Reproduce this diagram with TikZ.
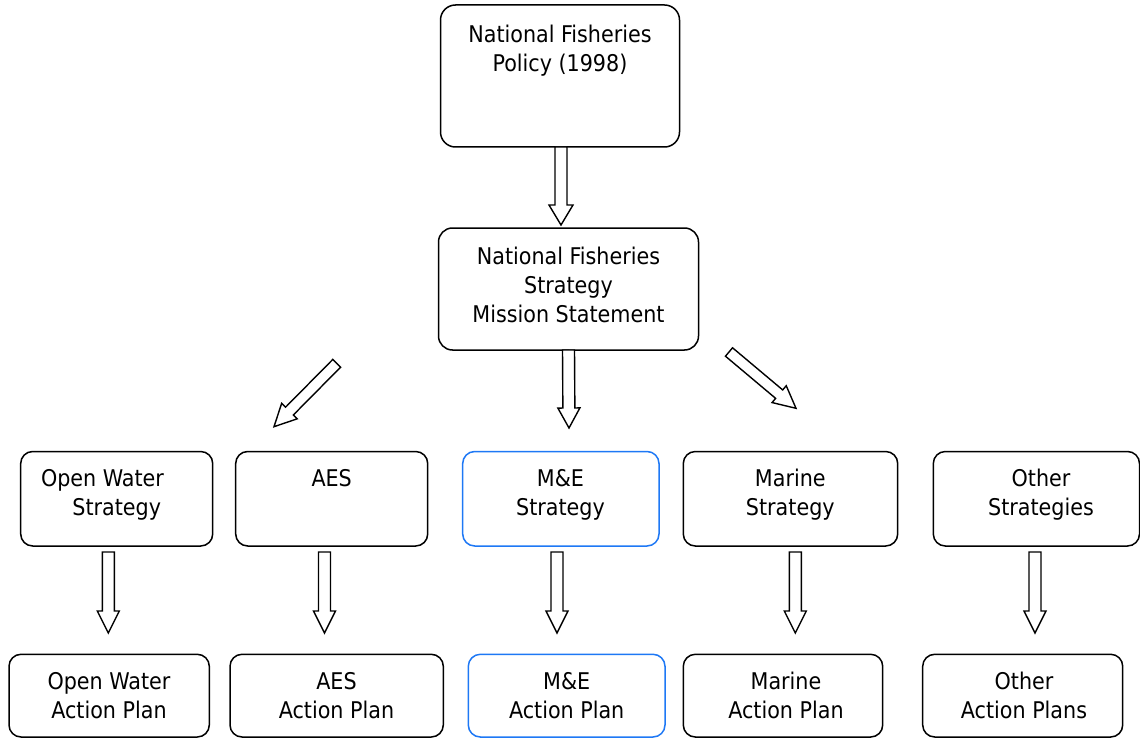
\documentclass[tikz,border=0pt]{standalone}
\usepackage{fontspec}
\setmainfont{DejaVu Sans Condensed}
\usetikzlibrary{calc}

\definecolor{meblue}{RGB}{30,120,245}

\tikzset{
  box/.style={rectangle, draw=black, line width=1.5pt, rounded corners=12pt,
    inner sep=0pt, fill=white},
  bluebox/.style={box, draw=meblue},
  txt/.style={font=\fontsize{23}{29}\selectfont, align=center, inner sep=0pt, anchor=north},
  barrow/.style={draw=black, line width=1.4pt, fill=white, line join=miter},
}

% strut that fixes the top of every text block 20pt above its first baseline
\newcommand{\firstline}{\rule{0pt}{20pt}}

% hollow block arrow: [style] {start}{tip}{shaft half width}{head half width}{head length}
\newcommand{\blockarrow}[6][]{%
  \path ($(#3)!#6!(#2)$) coordinate (ba-base);
  \draw[barrow,#1]
    ($(#2)!#4!90:(#3)$) -- ($(ba-base)!#4!90:(#3)$) -- ($(ba-base)!#5!90:(#3)$)
    -- (#3)
    -- ($(ba-base)!#5!-90:(#3)$) -- ($(ba-base)!#4!-90:(#3)$) -- ($(#2)!#4!-90:(#3)$)
    -- cycle;
}

\begin{document}
\begin{tikzpicture}[x=1pt, y=-1pt]
  \useasboundingbox (0,0) rectangle (1140,738);

  % ---- top of the hierarchy ----
  \node[box, rounded corners=15pt, minimum width=239pt, minimum height=142pt] (policy) at (560,76) {};
  \node[txt] (policy-t) at (560,22) {\firstline National Fisheries\\Policy (1998)};

  \node[box, rounded corners=14pt, minimum width=260pt, minimum height=122pt] (strat) at (568.5,289) {};
  \node[txt] (strat-t) at (568.5,244) {\firstline National Fisheries\\Strategy\\Mission Statement};

  % ---- strategies ----
  \node[box, minimum width=192pt, minimum height=94.5pt] (ows) at (116.7,498.75) {};
  \node[txt] (ows-t1) at (102.5,466) {\firstline Open Water};
  \node[txt] (ows-t2) at (116.7,495) {\firstline Strategy};

  \node[box, minimum width=192pt, minimum height=94.5pt] (aess) at (331.7,498.75) {};
  \node[txt] (aess-t) at (331.7,466) {\firstline AES};

  \node[bluebox, minimum width=196.3pt, minimum height=94.5pt] (mes) at (560.85,498.75) {};
  \node[txt] (mes-t) at (560.5,466) {\firstline M\&E\\Strategy};

  \node[box, minimum width=214.4pt, minimum height=94.5pt] (mars) at (790.5,498.75) {};
  \node[txt] (mars-t) at (790.3,466) {\firstline Marine\\Strategy};

  \node[box, minimum width=206.2pt, minimum height=94.5pt] (oths) at (1036.4,498.75) {};
  \node[txt] (oths-t) at (1041,466) {\firstline Other\\Strategies};

  % ---- action plans ----
  \node[box, minimum width=200.3pt, minimum height=82.7pt] (owp) at (109.15,695.65) {};
  \node[txt] (owp-t) at (109,669) {\firstline Open Water\\Action Plan};

  \node[box, minimum width=213.3pt, minimum height=82.7pt] (aesp) at (336.65,695.65) {};
  \node[txt] (aesp-t) at (336.5,669) {\firstline AES\\Action Plan};

  \node[bluebox, minimum width=196.7pt, minimum height=82.7pt] (mep) at (566.65,695.65) {};
  \node[txt] (mep-t) at (566.7,669) {\firstline M\&E\\Action Plan};

  \node[box, minimum width=199.4pt, minimum height=82.7pt] (marp) at (783,695.65) {};
  \node[txt] (marp-t) at (786,669) {\firstline Marine\\Action Plan};

  \node[box, minimum width=200pt, minimum height=82.7pt] (othp) at (1022.7,695.65) {};
  \node[txt] (othp-t) at (1024,669) {\firstline Other\\Action Plans};

  % ---- arrow end points ----
  \coordinate (a0s) at (561,147);    \coordinate (a0t) at (561,225);
  \coordinate (acs) at (568.5,350);  \coordinate (act) at (569,428);
  \coordinate (als) at (336.7,363.3);\coordinate (alt) at (274,426.7);
  \coordinate (ars) at (729,352);    \coordinate (art) at (796,408.3);
  \coordinate (r1s) at (108.3,552);  \coordinate (r1t) at (108.3,633);
  \coordinate (r2s) at (324.5,552);  \coordinate (r2t) at (324.5,633);
  \coordinate (r3s) at (557,552);    \coordinate (r3t) at (557,633);
  \coordinate (r4s) at (795.3,552);  \coordinate (r4t) at (795.3,633);
  \coordinate (r5s) at (1035,552);   \coordinate (r5t) at (1035,633);

  % ---- block arrows ----
  \blockarrow{a0s}{a0t}{6pt}{12pt}{20pt}
  \blockarrow{acs}{act}{6pt}{11pt}{20pt}
  \blockarrow{als}{alt}{5.5pt}{11pt}{22pt}
  \blockarrow{ars}{art}{5.5pt}{11pt}{22pt}
  \blockarrow{r1s}{r1t}{6pt}{11pt}{22pt}
  \blockarrow{r2s}{r2t}{6pt}{11pt}{22pt}
  \blockarrow{r3s}{r3t}{6pt}{11pt}{22pt}
  \blockarrow{r4s}{r4t}{6pt}{11pt}{22pt}
  \blockarrow{r5s}{r5t}{6pt}{11pt}{22pt}
\end{tikzpicture}
\end{document}
